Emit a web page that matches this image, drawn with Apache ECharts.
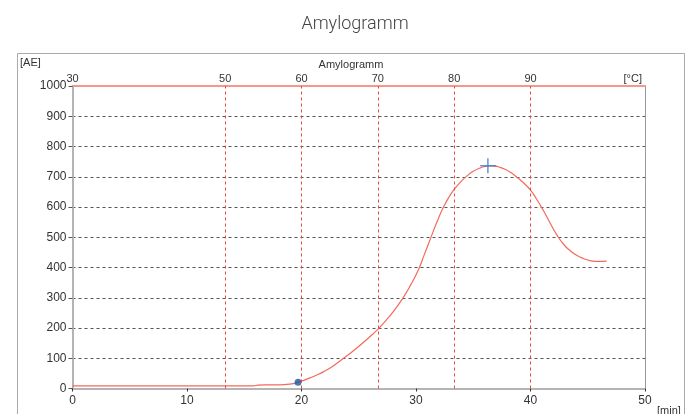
<!DOCTYPE html>
<html>
<head>
<meta charset="utf-8">
<script src="https://cdn.jsdelivr.net/npm/echarts@6/dist/echarts.min.js"></script>
<style>html,body{margin:0;padding:0;background:#fff}#c{width:691px;height:414px}</style>
</head>
<body>
<div id="c"></div>
<script>
// time [min]
var timeMin = [0, 2, 5, 8, 10, 12, 14, 15.8, 16.2, 17.5, 18.5, 19.3, 19.7, 20.2, 20.74, 21.3, 21.9, 22.6, 23.5, 24.2, 24.8, 25.7, 26.6, 27.3, 28.0, 28.84, 29.5, 30.2, 30.7, 31.28, 31.8, 32.38, 32.9, 33.35, 33.9, 34.43, 35.0, 35.6, 36.0, 36.46, 36.9, 37.34, 37.8, 38.2, 38.5, 38.9, 39.5, 40.02, 40.5, 41.1, 41.7, 42.3, 42.9, 43.45, 44.0, 44.6, 45.2, 45.8, 46.65];
// viscosity [AE]
var viscAE = [9, 9, 9, 9, 9, 9, 9, 9, 11, 12, 13, 16, 21, 27, 35, 44, 55, 70, 95, 115, 133, 162, 193, 222, 253, 298, 340, 392, 440, 497, 548, 598, 634, 659, 683, 702, 718, 729, 734, 736, 735, 731, 724, 716, 708, 696, 676, 655, 628, 590, 548, 508, 476, 456, 441, 430, 423, 420, 421];
// markers
var gelStart = [19.7, 21];
var peakPoint = [36.3, 736];
// axes
var yTicks = {min: 0, max: 1000, step: 100};
var xTicks = {min: 0, max: 50, step: 10};
var tempRange = {min: 30, max: 105};
var tempLabels = [30, 50, 60, 70, 80, 90];
var tempLines = [50, 60, 70, 80, 90];

var curve = timeMin.map(function (t, i) { return [t, viscAE[i]]; });

var chart = echarts.init(document.getElementById('c'));
chart.setOption({
  animation: false,
  title: {
    text: 'Amylogramm', left: 350, top: 10, textAlign: 'center',
    textStyle: {fontFamily: 'Roboto', fontWeight: 300, fontSize: 18, color: '#444'}
  },
  grid: {left: 72.5, right: 46, top: 86, bottom: 25.5},
  xAxis: [{
    type: 'value', position: 'bottom', min: xTicks.min, max: xTicks.max, interval: xTicks.step,
    axisLine: {onZero: false, lineStyle: {color: '#b4b4b4', width: 2}},
    axisTick: {show: true, length: 3, lineStyle: {color: '#333'}},
    axisLabel: {margin: 6, fontSize: 12, color: '#333', fontFamily: 'Liberation Sans'},
    splitLine: {show: false}
  }, {
    type: 'value', position: 'top', min: tempRange.min, max: tempRange.max, interval: 5,
    axisLine: {onZero: false, lineStyle: {color: '#f4978c', width: 2}},
    axisTick: {show: false},
    axisLabel: {
      margin: 2, fontSize: 11, color: '#333', fontFamily: 'Liberation Sans',
      formatter: function (v) { return tempLabels.indexOf(v) >= 0 ? String(v) : ''; }
    },
    splitLine: {show: false}
  }],
  yAxis: [{
    type: 'value', min: yTicks.min, max: yTicks.max, interval: yTicks.step,
    axisLine: {show: true, onZero: false, lineStyle: {color: '#b4b4b4', width: 2}},
    axisTick: {show: true, length: 4, lineStyle: {color: '#555'}},
    axisLabel: {margin: 6, fontSize: 12, color: '#333', fontFamily: 'Liberation Sans',
      formatter: function (v) { return String(v); }},
    splitLine: {show: true, lineStyle: {color: '#555', type: [3, 3], width: 1}}
  }, {
    type: 'value', position: 'right', min: yTicks.min, max: yTicks.max, interval: yTicks.step,
    axisLine: {show: true, onZero: false, lineStyle: {color: '#999', width: 1}},
    axisTick: {show: false}, axisLabel: {show: false}, splitLine: {show: false}
  }],
  series: [{
    type: 'line', xAxisIndex: 1, yAxisIndex: 0, data: [], silent: true,
    markLine: {
      symbol: 'none', silent: true, label: {show: false},
      lineStyle: {color: '#f0463a', type: [3, 3], width: 1},
      data: tempLines.map(function (t) { return {xAxis: t}; })
    }
  }, {
    type: 'line', xAxisIndex: 0, yAxisIndex: 0, data: curve, smooth: 0.5,
    showSymbol: false, lineStyle: {color: '#f26a5c', width: 1.2}, z: 3
  }, {
    type: 'scatter', xAxisIndex: 0, yAxisIndex: 0, data: [gelStart],
    symbol: 'circle', symbolSize: 7, itemStyle: {color: '#1d57a3'}, z: 4
  }, {
    type: 'scatter', xAxisIndex: 0, yAxisIndex: 0, data: [peakPoint],
    symbol: 'path://M7,0H8.5V15H7ZM0,6.75H16V8.25H0Z', symbolSize: [16, 15],
    itemStyle: {color: '#3c7cc8'}, z: 4
  }],
  graphic: [
    {type: 'rect', shape: {x: 17.5, y: 53.5, width: 667, height: 400}, style: {fill: 'none', stroke: '#aaa', lineWidth: 1}, z: -1},
    {type: 'text', left: 20, top: 57, style: {text: '[AE]', fontSize: 11, fill: '#333', fontFamily: 'Liberation Sans'}},
    {type: 'text', x: 351, y: 65, style: {text: 'Amylogramm', fontSize: 11, fill: '#333', fontFamily: 'Liberation Sans', align: 'center', verticalAlign: 'middle'}},
    {type: 'text', x: 642, y: 79, style: {text: '[°C]', fontSize: 11, fill: '#333', fontFamily: 'Liberation Sans', align: 'right', verticalAlign: 'middle'}},
    {type: 'text', x: 657, y: 411, style: {text: '[min]', fontSize: 11, fill: '#333', fontFamily: 'Liberation Sans', align: 'left', verticalAlign: 'middle'}}
  ]
});
</script>
</body>
</html>
